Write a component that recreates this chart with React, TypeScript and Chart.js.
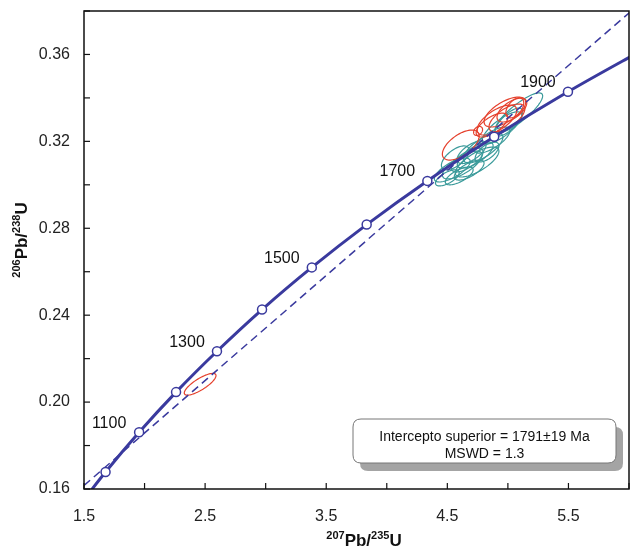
import React, { useEffect, useRef } from "react";
import { Chart, registerables } from "chart.js";

Chart.register(...registerables);

// ---- Data ----
const concordiaAges = [900, 1000, 1100, 1200, 1300, 1400, 1500, 1600, 1700, 1800, 1900, 2000];
const concordiaX = [1.426, 1.678, 1.955, 2.260, 2.598, 2.970, 3.381, 3.834, 4.335, 4.887, 5.496, 6.168];
const concordiaY = [0.1498, 0.1678, 0.1861, 0.2046, 0.2234, 0.2426, 0.2620, 0.2817, 0.3018, 0.3221, 0.3428, 0.3638];
const labeledAges = [1100, 1300, 1500, 1700, 1900];

const discordiaX = [1.5, 6.0];
const discordiaY = [0.1616, 0.3791];

// error ellipses: centre (x,y), half extents (sx, sy), correlation rho
const redCx = [2.459, 4.611, 4.910, 4.975, 5.033, 5.057, 4.754, 4.869, 4.992];
const redCy = [0.2082, 0.3183, 0.3298, 0.3335, 0.3344, 0.3354, 0.3248, 0.3275, 0.3308];
const redSx = [0.131, 0.152, 0.164, 0.172, 0.123, 0.074, 0.037, 0.131, 0.148];
const redSy = [0.0050, 0.0069, 0.0069, 0.0069, 0.0055, 0.0046, 0.0021, 0.0055, 0.0064];
const redRho = [0.8, 0.6, 0.65, 0.65, 0.6, 0.5, 0.3, 0.65, 0.65];

const tealCx = [4.541, 4.623, 4.664, 4.730, 4.598, 4.795, 4.869, 4.951, 5.090, 4.500, 4.680, 4.828, 4.566, 4.746, 5.008, 4.700];
const tealCy = [0.3068, 0.3091, 0.3114, 0.3137, 0.3041, 0.3170, 0.3206, 0.3262, 0.3331, 0.3032, 0.3068, 0.3151, 0.3124, 0.3105, 0.3289, 0.3150];
const tealSx = [0.148, 0.164, 0.131, 0.148, 0.115, 0.164, 0.148, 0.164, 0.197, 0.098, 0.123, 0.098, 0.115, 0.180, 0.115, 0.120];
const tealSy = [0.0055, 0.0064, 0.0055, 0.0060, 0.0041, 0.0069, 0.0060, 0.0074, 0.0092, 0.0037, 0.0046, 0.0046, 0.0055, 0.0069, 0.0064, 0.0052];
const tealRho = [0.72, 0.72, 0.68, 0.72, 0.68, 0.72, 0.72, 0.78, 0.85, 0.65, 0.68, 0.62, 0.62, 0.72, 0.72, 0.65];

const boxLines = ["Intercepto superior = 1791\u00B119 Ma", "MSWD = 1.3"];

// ---- Styles ----
const FONT = 'Arial, "Liberation Sans", Helvetica, sans-serif';
const NAVY = "#3a3a9e";
const RED = "#e5412d";
const TEAL = "#3a9a9a";

function drawEllipse(ctx: any, xs: any, ys: any, cx: number, cy: number, sx: number, sy: number, rho: number) {
  const n = 72;
  const k = Math.sqrt(1 - rho * rho);
  ctx.beginPath();
  for (let i = 0; i <= n; i++) {
    const t = (i / n) * Math.PI * 2;
    const x = cx + sx * Math.cos(t);
    const y = cy + sy * (rho * Math.cos(t) + k * Math.sin(t));
    const px = xs.getPixelForValue(x);
    const py = ys.getPixelForValue(y);
    if (i === 0) ctx.moveTo(px, py);
    else ctx.lineTo(px, py);
  }
  ctx.closePath();
  ctx.stroke();
}

function drawRich(ctx: any, parts: { t: string; sup?: boolean }[], cx: number, baseline: number) {
  const big = `bold 17px ${FONT}`;
  const small = `bold 11px ${FONT}`;
  let w = 0;
  parts.forEach((p) => {
    ctx.font = p.sup ? small : big;
    w += ctx.measureText(p.t).width;
  });
  let x = cx - w / 2;
  ctx.textAlign = "left";
  ctx.textBaseline = "alphabetic";
  parts.forEach((p) => {
    ctx.font = p.sup ? small : big;
    ctx.fillText(p.t, x, p.sup ? baseline - 7 : baseline);
    x += ctx.measureText(p.t).width;
  });
}

function roundRect(ctx: any, x: number, y: number, w: number, h: number, r: number) {
  ctx.beginPath();
  ctx.moveTo(x + r, y);
  ctx.lineTo(x + w - r, y);
  ctx.quadraticCurveTo(x + w, y, x + w, y + r);
  ctx.lineTo(x + w, y + h - r);
  ctx.quadraticCurveTo(x + w, y + h, x + w - r, y + h);
  ctx.lineTo(x + r, y + h);
  ctx.quadraticCurveTo(x, y + h, x, y + h - r);
  ctx.lineTo(x, y + r);
  ctx.quadraticCurveTo(x, y, x + r, y);
  ctx.closePath();
}

const decorPlugin = {
  id: "decor",
  beforeDatasetsDraw(chart: any) {
    const { ctx, chartArea: a, scales } = chart;
    const xs = scales.x;
    const ys = scales.y;
    ctx.save();
    ctx.beginPath();
    ctx.rect(a.left, a.top, a.right - a.left, a.bottom - a.top);
    ctx.clip();
    ctx.lineWidth = 1.2;
    ctx.strokeStyle = TEAL;
    tealCx.forEach((cx, i) => drawEllipse(ctx, xs, ys, cx, tealCy[i], tealSx[i], tealSy[i], tealRho[i]));
    ctx.strokeStyle = RED;
    redCx.forEach((cx, i) => drawEllipse(ctx, xs, ys, cx, redCy[i], redSx[i], redSy[i], redRho[i]));
    ctx.restore();
  },
  afterDatasetsDraw(chart: any) {
    const { ctx, scales } = chart;
    const xs = scales.x;
    const ys = scales.y;
    ctx.save();
    ctx.fillStyle = "#111";
    ctx.font = `16px ${FONT}`;
    ctx.textAlign = "center";
    ctx.textBaseline = "middle";
    labeledAges.forEach((age) => {
      const i = concordiaAges.indexOf(age);
      const px = xs.getPixelForValue(concordiaX[i]);
      const py = ys.getPixelForValue(concordiaY[i]);
      ctx.fillText(String(age), px - 30, py - 9);
    });
    ctx.restore();
  },
  afterDraw(chart: any) {
    const { ctx, chartArea: a, scales } = chart;
    ctx.save();
    // frame
    ctx.strokeStyle = "#111";
    ctx.lineWidth = 1.5;
    ctx.strokeRect(a.left, a.top, a.right - a.left, a.bottom - a.top);
    // inward ticks
    ctx.lineWidth = 1.2;
    scales.x.ticks.forEach((t: any) => {
      const px = scales.x.getPixelForValue(t.value);
      ctx.beginPath();
      ctx.moveTo(px, a.bottom);
      ctx.lineTo(px, a.bottom - 6);
      ctx.stroke();
    });
    scales.y.ticks.forEach((t: any) => {
      const py = scales.y.getPixelForValue(t.value);
      ctx.beginPath();
      ctx.moveTo(a.left, py);
      ctx.lineTo(a.left + 6, py);
      ctx.stroke();
    });
    // text box with shadow
    const bx = 353, by = 419, bw = 263, bh = 44;
    ctx.fillStyle = "#a4a4a4";
    roundRect(ctx, bx + 7, by + 8, bw, bh, 8);
    ctx.fill();
    ctx.fillStyle = "#fff";
    ctx.strokeStyle = "#777";
    ctx.lineWidth = 1;
    roundRect(ctx, bx, by, bw, bh, 8);
    ctx.fill();
    ctx.stroke();
    ctx.fillStyle = "#111";
    ctx.font = `14px ${FONT}`;
    ctx.textAlign = "center";
    ctx.textBaseline = "middle";
    ctx.fillText(boxLines[0], bx + bw / 2, by + 18);
    ctx.fillText(boxLines[1], bx + bw / 2, by + 35);
    // axis titles
    ctx.fillStyle = "#111";
    drawRich(ctx, [{ t: "207", sup: true }, { t: "Pb/" }, { t: "235", sup: true }, { t: "U" }], 364, 546);
    ctx.translate(27, 240);
    ctx.rotate(-Math.PI / 2);
    drawRich(ctx, [{ t: "206", sup: true }, { t: "Pb/" }, { t: "238", sup: true }, { t: "U" }], 0, 0);
    ctx.restore();
  },
};

export default function App() {
  const ref = useRef<HTMLCanvasElement | null>(null);
  useEffect(() => {
    if (!ref.current) return;
    const chart = new Chart(ref.current, {
      type: "scatter",
      data: {
        datasets: [
          {
            label: "Concordia",
            data: concordiaX.map((x, i) => ({ x, y: concordiaY[i] })),
            showLine: true,
            borderColor: NAVY,
            borderWidth: 3,
            pointRadius: 4.5,
            pointBackgroundColor: "#fff",
            pointBorderColor: NAVY,
            pointBorderWidth: 1.5,
            cubicInterpolationMode: "monotone",
          } as any,
          {
            label: "Discordia",
            data: discordiaX.map((x, i) => ({ x, y: discordiaY[i] })),
            showLine: true,
            borderColor: NAVY,
            borderWidth: 1.5,
            borderDash: [8, 5],
            pointRadius: 0,
          } as any,
        ],
      },
      options: {
        responsive: false,
        animation: false,
        layout: { padding: { top: 11, right: 2, left: 0, bottom: 0 } },
        plugins: { legend: { display: false }, tooltip: { enabled: false } },
        scales: {
          x: {
            type: "linear",
            min: 1.5,
            max: 6.0,
            afterFit: (s: any) => {
              s.height = 61;
              s.paddingLeft = 0;
              s.paddingRight = 0;
            },
            grid: { display: false, drawTicks: false },
            border: { display: false },
            ticks: {
              stepSize: 0.5,
              autoSkip: false,
              maxRotation: 0,
              padding: 18,
              color: "#222",
              font: { family: FONT, size: 16 },
              callback: (v: any) => {
                const r = Number(v) - 1.5;
                return Math.abs(r - Math.round(r)) < 1e-6 ? Number(v).toFixed(1) : "";
              },
            },
          },
          y: {
            type: "linear",
            min: 0.16,
            max: 0.38,
            afterFit: (s: any) => {
              s.width = 84;
              s.paddingTop = 0;
              s.paddingBottom = 0;
            },
            grid: { display: false, drawTicks: false },
            border: { display: false },
            ticks: {
              stepSize: 0.02,
              autoSkip: false,
              padding: 14,
              color: "#222",
              font: { family: FONT, size: 16 },
              callback: (v: any) => {
                const r = (Number(v) - 0.16) / 0.04;
                return Math.abs(r - Math.round(r)) < 1e-6 ? Number(v).toFixed(2) : "";
              },
            },
          },
        },
      },
      plugins: [decorPlugin],
    });
    return () => chart.destroy();
  }, []);
  return (
    <div style={{ position: "fixed", left: 0, top: 0, width: 635, height: 550, background: "#fff" }}>
      <canvas ref={ref} width={635} height={550} style={{ display: "block" }} />
    </div>
  );
}
